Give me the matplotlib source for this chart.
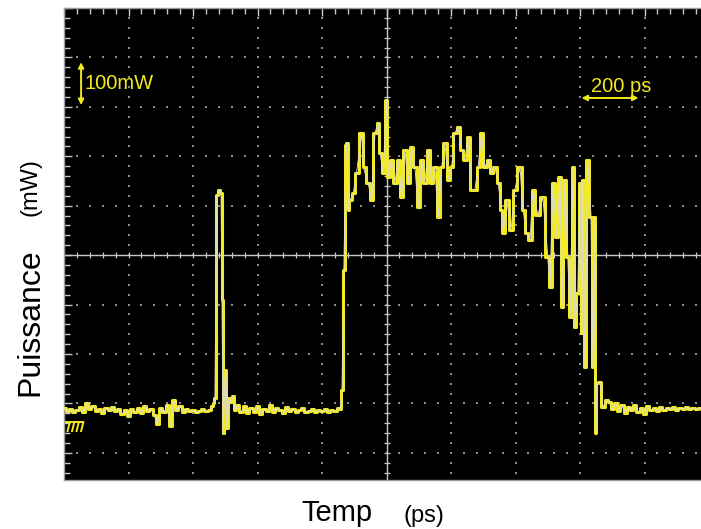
import matplotlib
matplotlib.use("Agg")
import matplotlib.pyplot as plt
import numpy as np
from matplotlib.ticker import MultipleLocator

# oscilloscope screen: time in ps (200 ps/div, left edge = 0), power in mW (100 mW/div, centre = 0)
base1_t = [0, 10, 20, 30, 40, 50, 60, 70, 80, 90, 100, 110, 120, 130, 140, 150, 160, 170, 180,
           190, 200, 210, 220, 230, 240, 250, 260, 270, 280, 290, 300, 310, 320, 330, 340, 350,
           360, 370, 380, 390, 400, 410, 420, 430, 440, 450, 460]
base1_p = [-310, -316, -312, -318, -314, -308, -318, -300, -312, -306, -316, -312, -320, -310,
           -314, -308, -316, -312, -322, -314, -326, -312, -318, -310, -320, -306, -316, -312,
           -324, -342, -310, -318, -304, -346, -293, -314, -306, -318, -312, -316, -314, -318,
           -316, -312, -316, -314, -306]

pulse1_t = [465, 468, 474, 481, 487, 490, 493, 499, 502, 505, 512, 518, 524, 530, 539, 549]
pulse1_p = [-300, -289, 121, 132, 125, -91, -360, -253, -233, -350, -289, -298, -285, -314,
            -304, -318]

base2_t = [560, 570, 580, 590, 600, 610, 620, 630, 640, 650, 660, 670, 680, 690, 700, 710, 720,
           730, 740, 750, 760, 770, 780, 790, 800, 810, 820, 830, 840, 850]
base2_p = [-306, -320, -310, -318, -306, -322, -312, -316, -304, -318, -310, -314, -320, -308,
           -316, -312, -318, -314, -310, -318, -316, -312, -318, -314, -316, -312, -318, -314,
           -316, -310]

pulse2_t = [856, 862, 868, 874, 877, 881, 887, 897, 907, 923, 928, 943, 954, 964, 974, 980, 990,
            1000, 1005, 1016, 1026, 1036, 1047, 1057, 1067, 1078, 1088, 1098, 1109, 1119, 1129,
            1140, 1150, 1160, 1171, 1181, 1191, 1202, 1212, 1222, 1233, 1243, 1253, 1264, 1274,
            1284, 1295, 1305, 1315, 1326, 1336, 1346, 1357, 1362, 1373, 1386, 1398, 1414, 1423,
            1435, 1445, 1454, 1469, 1485, 1500, 1507, 1516, 1528, 1538, 1544, 1553, 1562, 1569,
            1578, 1584, 1593, 1600, 1606, 1609, 1615, 1624, 1634, 1640, 1643, 1649, 1652, 1662,
            1671, 1683]
pulse2_p = [-312, -273, -30, 223, 227, 91, 111, 125, 166, 247, 178, 146, 111, 247, 267, 206, 166,
            314, 158, 192, 146, 192, 117, 213, 146, 219, 178, 97, 192, 146, 213, 146, 178, 77,
            178, 227, 152, 178, 247, 259, 213, 192, 239, 132, 132, 178, 247, 178, 192, 166, 178,
            146, 91, 45, 111, 51, 132, 178, 91, 45, 30, 132, 81, 117, -4, -65, 146, 36, 158,
            -105, 152, -4, -125, 178, -146, -77, 146, -158, 152, -227, 192, 77, -227, 77, -360,
            -259, -257, -308, -293]

base3_t = [1690, 1700, 1710, 1720, 1730, 1740, 1750, 1760, 1770, 1780, 1790, 1800, 1810, 1820,
           1830, 1840, 1850, 1860, 1870, 1880, 1890, 1900, 1910, 1920, 1930, 1940, 1950, 1960,
           1970, 1980]
base3_p = [-298, -312, -300, -316, -304, -320, -308, -314, -304, -318, -310, -322, -306, -314,
           -310, -316, -308, -314, -310, -312, -308, -314, -310, -312, -308, -312, -310, -312,
           -309, -311]

YELLOW = "#f2ea1e"
TRACE_WHITE = "#dcdccc"
GRID = "#8c8c8c"
AXIS_LIGHT = "#c8c8c8"

t = np.concatenate([base1_t, pulse1_t, base2_t, pulse2_t, base3_t])
p = np.concatenate([base1_p, pulse1_p, base2_p, pulse2_p, base3_p])

fig = plt.figure(figsize=(7.01, 5.29), dpi=100)
fig.patch.set_facecolor("white")
ax = fig.add_axes([64 / 701, 49 / 529, 637 / 701, 472 / 529])
ax.set_facecolor("black")
ax.set_xlim(0, 1975)
ax.set_ylim(-455, 500)

# dotted graticule
for gy in [-400, -300, -200, -100, 100, 200, 300, 400]:
    xs = np.arange(0, 2001, 40)
    ax.scatter(xs, np.full_like(xs, gy), s=1.8, color=GRID, marker="s", linewidths=0, zorder=1)
for gx in [200, 400, 600, 800, 1200, 1400, 1600, 1800]:
    ys = np.arange(-460, 501, 20)
    ax.scatter(np.full_like(ys, gx), ys, s=1.8, color=GRID, marker="s", linewidths=0, zorder=1)

# centre cross with small ticks
ax.axhline(0, color=AXIS_LIGHT, lw=1.0, zorder=1)
ax.axvline(1000, color=AXIS_LIGHT, lw=1.0, zorder=1)
cx = np.arange(0, 2001, 40)
ax.scatter(cx, np.zeros_like(cx), marker="|", s=14, color=AXIS_LIGHT, linewidths=0.9, zorder=1)
cy = np.arange(-460, 501, 20)
ax.scatter(np.full_like(cy, 1000), cy, marker="_", s=14, color=AXIS_LIGHT, linewidths=0.9, zorder=1)

# trace: yellow steps with a thin white line drawn over it
ax.plot(t, p, color=YELLOW, lw=2.2, drawstyle="steps-mid", zorder=3)
ax.plot(t, p, color=TRACE_WHITE, lw=0.7, zorder=4)

# frame ticks on top and left edges
ax.xaxis.set_major_locator(MultipleLocator(200))
ax.xaxis.set_minor_locator(MultipleLocator(40))
ax.yaxis.set_major_locator(MultipleLocator(100))
ax.yaxis.set_minor_locator(MultipleLocator(20))
ax.tick_params(which="both", direction="in", top=True, bottom=False, left=True, right=False,
               labelbottom=False, labelleft=False, color=AXIS_LIGHT, width=1.0)
ax.tick_params(which="major", length=6)
ax.tick_params(which="minor", length=4)
for side in ("top", "left", "bottom"):
    ax.spines[side].set_color("#9a9a9a")
    ax.spines[side].set_linewidth(1.0)
ax.spines["right"].set_visible(False)

# scale markers
ax.annotate("", xy=(53, 396), xytext=(53, 298),
            arrowprops=dict(arrowstyle="<|-|>", color=YELLOW, lw=1.4, mutation_scale=8))
ax.text(64, 347, "100mW", color=YELLOW, fontsize=14.5, family="Liberation Sans",
        ha="left", va="center")
ax.annotate("", xy=(1596, 318), xytext=(1790, 318),
            arrowprops=dict(arrowstyle="<|-|>", color=YELLOW, lw=1.4, mutation_scale=8))
ax.text(1634, 322, "200 ps", color=YELLOW, fontsize=14.5, family="Liberation Sans",
        ha="left", va="bottom")

# ground reference symbol
ax.plot([4, 62], [-338, -338], color=YELLOW, lw=1.4, zorder=5, solid_capstyle="butt")
for hx in [18, 32, 46, 60]:
    ax.plot([hx, hx - 7], [-338, -356], color=YELLOW, lw=1.4, zorder=5)

fig.text(0.043, 0.391, "Puissance", rotation=90, fontsize=23, family="Liberation Sans",
         ha="center", va="center")
fig.text(0.043, 0.646, "(mW)", rotation=90, fontsize=17, family="Liberation Sans",
         ha="center", va="center")
fig.text(337 / 701, 0.030, "Temp", fontsize=21, family="Liberation Sans", ha="center", va="center")
fig.text(424 / 701, 0.024, "(ps)", fontsize=17, family="Liberation Sans", ha="center", va="center")

fig.savefig("out.png", dpi=100)
